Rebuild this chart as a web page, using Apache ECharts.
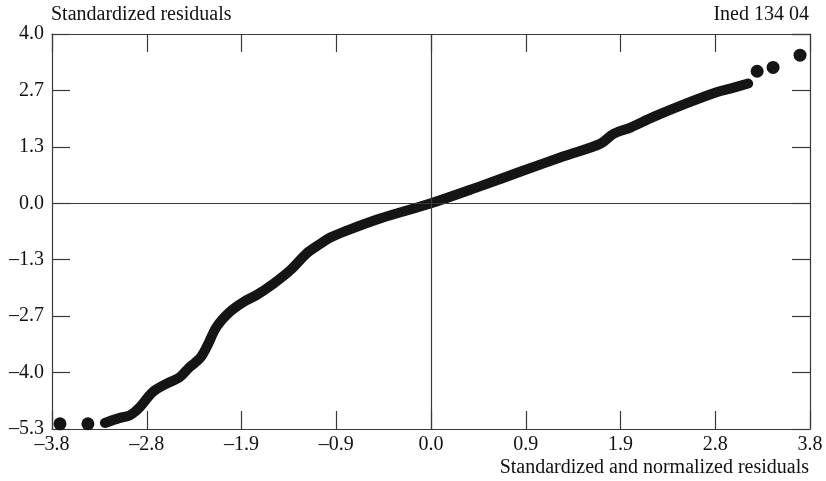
<!DOCTYPE html>
<html>
<head>
<meta charset="utf-8">
<script src="https://cdn.jsdelivr.net/npm/echarts@6/dist/echarts.min.js"></script>
<style>
html,body{margin:0;padding:0;background:#fff;}
#chart{width:826px;height:481px;}
</style>
</head>
<body>
<div id="chart"></div>
<script>
// Axis ticks and labels
const xMin = -3.8, xMax = 3.8, xInterval = 0.95;
const yMin = -16 / 3, yMax = 4, yInterval = 4 / 3;
const xTickLabels = ['\u20133.8', '\u20132.8', '\u20131.9', '\u20130.9', '0.0', '0.9', '1.9', '2.8', '3.8'];
const yTickLabels = ['\u20135.3', '\u20134.0', '\u20132.7', '\u20131.3', '0.0', '1.3', '2.7', '4.0'];

// Continuous part of the Q-Q curve (normalized quantile, standardized residual)
const curveX = [-3.27, -3.12, -3.02, -2.92, -2.79, -2.65, -2.52, -2.42, -2.32, -2.25, -2.15, -2.02, -1.88, -1.75, -1.58, -1.41, -1.25, -1.13, -1.01, -0.85, -0.51, 0.0, 0.49, 0.90, 1.33, 1.70, 1.83, 2.00, 2.23, 2.56, 2.87, 3.00, 3.18];
const curveY = [-5.19, -5.07, -5.01, -4.82, -4.46, -4.26, -4.11, -3.87, -3.67, -3.40, -2.92, -2.57, -2.33, -2.17, -1.90, -1.58, -1.19, -0.99, -0.81, -0.65, -0.36, 0.0, 0.40, 0.75, 1.11, 1.41, 1.64, 1.79, 2.04, 2.36, 2.63, 2.71, 2.83];

// Isolated extreme points
const pointsX = [-3.72, -3.44, 3.27, 3.43, 3.70];
const pointsY = [-5.21, -5.21, 3.12, 3.21, 3.50];

const titleLeft = 'Standardized residuals';
const titleRight = 'Ined 134 04';
const xAxisTitle = 'Standardized and normalized residuals';

const FONT = 'Liberation Serif';
const FS = 20;
const AX = '#3a3a3a';

const curveData = curveX.map((x, i) => [x, curveY[i]]);
const pointData = pointsX.map((x, i) => [x, pointsY[i]]);

function xFmt(v) { const i = Math.round((v - xMin) / xInterval); return xTickLabels[i] || ''; }
function yFmt(v) { const i = Math.round((v - yMin) / yInterval); return yTickLabels[i] || ''; }

const baseX = {
  type: 'value', min: xMin, max: xMax, interval: xInterval,
  axisLine: { show: true, onZero: false, lineStyle: { color: AX, width: 1.2 } },
  axisTick: { show: true, inside: true, length: 18, lineStyle: { color: AX, width: 1.2 } },
  splitLine: { show: false }
};
const baseY = {
  type: 'value', min: yMin, max: yMax, interval: yInterval,
  axisLine: { show: true, onZero: false, lineStyle: { color: AX, width: 1.2 } },
  axisTick: { show: true, inside: true, length: 18, lineStyle: { color: AX, width: 1.2 } },
  splitLine: { show: false }
};

const chart = echarts.init(document.getElementById('chart'), null, { renderer: 'canvas' });
chart.setOption({
  animation: false,
  backgroundColor: '#fff',
  textStyle: { fontFamily: FONT },
  grid: { left: 52, right: 16, top: 34, bottom: 52, containLabel: false },
  title: [
    { text: titleLeft, left: 51, top: 5, padding: 0, textStyle: { fontFamily: FONT, fontSize: FS, fontWeight: 'normal', color: '#111' } },
    { text: titleRight, right: 17, top: 5, padding: 0, textStyle: { fontFamily: FONT, fontSize: FS, fontWeight: 'normal', color: '#111' } },
    { text: xAxisTitle, right: 17, top: 458, padding: 0, textStyle: { fontFamily: FONT, fontSize: FS, fontWeight: 'normal', color: '#111' } }
  ],
  xAxis: [
    Object.assign({}, baseX, { position: 'bottom', axisLabel: { show: true, formatter: xFmt, margin: 6, fontFamily: FONT, fontSize: FS, color: '#111', showMinLabel: true, showMaxLabel: true } }),
    Object.assign({}, baseX, { position: 'top', axisLabel: { show: false } })
  ],
  yAxis: [
    Object.assign({}, baseY, { position: 'left', axisLabel: { show: true, formatter: yFmt, margin: 8, fontFamily: FONT, fontSize: FS, color: '#111', showMinLabel: true, showMaxLabel: true } }),
    Object.assign({}, baseY, { position: 'right', axisLabel: { show: false } })
  ],
  series: [
    {
      type: 'line', xAxisIndex: 0, yAxisIndex: 0,
      data: curveData, smooth: 0.35, showSymbol: false, symbol: 'none',
      lineStyle: { color: '#151515', width: 10, cap: 'round', join: 'round' },
      markLine: {
        silent: true, symbol: ['none', 'none'], animation: false,
        label: { show: false },
        lineStyle: { color: AX, width: 1.2, type: 'solid' },
        data: [{ xAxis: 0 }, { yAxis: 0 }]
      },
      z: 3
    },
    {
      type: 'scatter', xAxisIndex: 0, yAxisIndex: 0,
      data: pointData, symbol: 'circle', symbolSize: 13,
      itemStyle: { color: '#151515', opacity: 1 }, z: 4
    }
  ]
});
</script>
</body>
</html>
